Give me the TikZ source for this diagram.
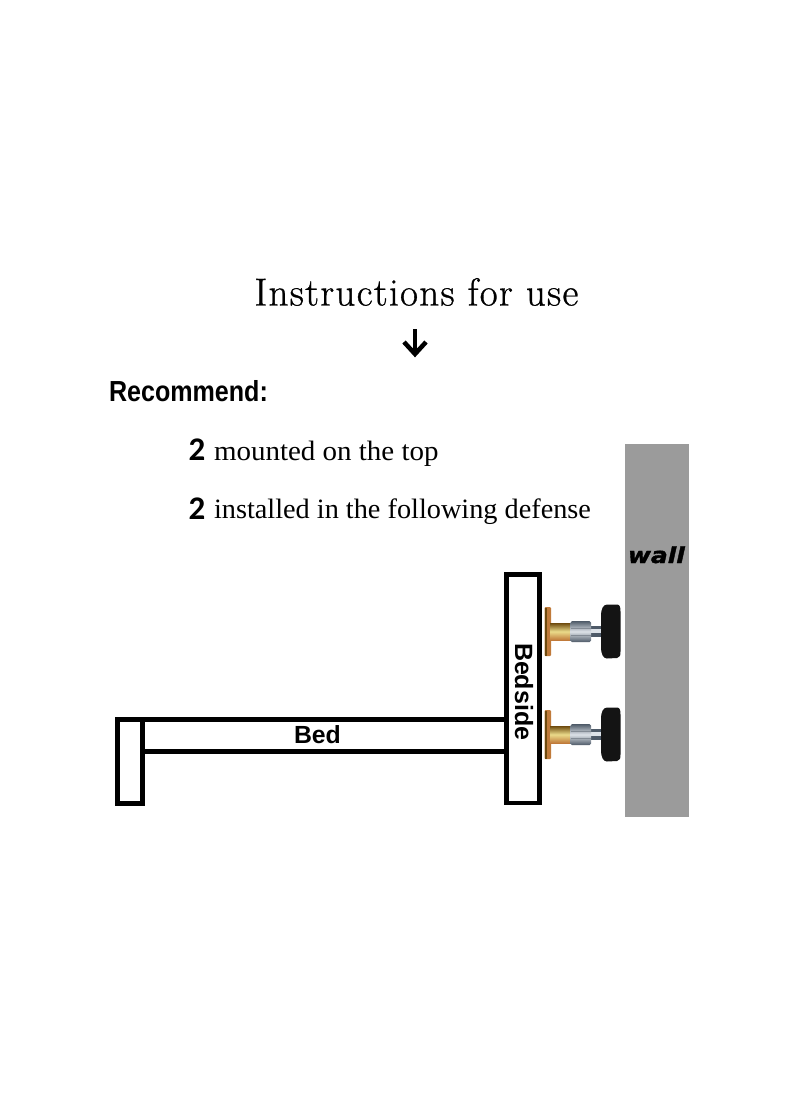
\documentclass[tikz,border=0pt]{standalone}
\usepackage{fontspec}
\setmainfont{Latin Modern Roman}
\newfontfamily\bodyfont{Liberation Serif}
\newfontfamily\numfont{Carlito}
\newfontfamily\armfont{Liberation Sans}
\newfontfamily\wallfont{DejaVu Sans}
\definecolor{wallgrey}{HTML}{9B9B9B}
\definecolor{plateorange}{HTML}{C07A3A}
\definecolor{brassdark}{HTML}{6E4A0E}
\definecolor{brasslight}{HTML}{EADB8A}
\definecolor{steeldark}{HTML}{4E5A68}
\definecolor{steellight}{HTML}{DDE2E8}
\definecolor{knob}{HTML}{141414}
\tikzset{
  frame/.style={draw=black,line width=4.8pt,fill=white,miter limit=10},
  txt/.style={inner sep=0pt,outer sep=0pt,anchor=base west,text=black},
  pics/bolt/.style={code={
    \fill[plateorange,rounded corners=1pt] (-0.5,-24.5) rectangle (6,24.5);
    \fill[brassdark] (-0.5,-24) rectangle (1.8,24);
    \shade[top color=brassdark,bottom color=plateorange,middle color=brasslight] (5,-8.5) rectangle (25.5,8.5);
    \fill[steeldark] (46,-5.5) rectangle (56,5.5);
    \fill[steellight] (46,-2.5) rectangle (56,1.5);
    \shade[top color=steeldark,bottom color=steeldark,middle color=steellight] (25.5,-9) -- (27,-10.5) -- (44.5,-10.5) -- (46,-9) -- (46,9) -- (44.5,10.5) -- (27,10.5) -- (25.5,9) -- cycle;
    \draw[steeldark!70,line width=0.4pt] (25.5,-3.5) -- (46,-3.5) (25.5,4) -- (46,4);
    \fill[knob] (56,-16) .. controls (56,-22) and (58,-27) .. (62,-27) -- (72,-27) .. controls (75,-27) and (75.5,-24) .. (75.5,-20) -- (75.5,20) .. controls (75.5,24) and (75,26) .. (72,26.5) -- (62,27) .. controls (58,27) and (56,22) .. (56,16) -- cycle;
  }}
}
\begin{document}
\begin{tikzpicture}[x=1pt,y=-1pt]
\useasboundingbox (0,0) rectangle (800,1096);
% wall
\fill[wallgrey] (624.7,444) rectangle (689.3,817.3);
% bed rail, legs
\draw[frame] (143,719.8) rectangle (506,751.8);
\draw[frame] (117.3,719.8) rectangle (142.8,803.7);
\draw[frame] (506.6,574.2) rectangle (539.4,803);
% bolts
\pic at (545,631.5) {bolt};
\pic at (545,734.5) {bolt};
% arrow
\coordinate (arrowtop) at (415,329);
\coordinate (arrowtip) at (415,354);
\coordinate (arrowleft) at (404,342);
\coordinate (arrowright) at (426,342);
\draw[line width=4.5pt] (arrowtop) -- (arrowtip);
\draw[line width=4.5pt,miter limit=10] (arrowleft) -- (arrowtip) -- (arrowright);
% texts
\node[txt] (title) at (254.5,305.5) {\fontsize{39}{39}\selectfont\addfontfeature{LetterSpace=3.4,FakeBold=0.8}Instructions for use};
\node[txt] (recommend) at (109,401) {\armfont\bfseries\fontsize{29}{29}\selectfont\scalebox{0.865}[1]{Recommend:}};
\node[txt] (numa) at (188.5,460.5) {\numfont\bfseries\fontsize{33}{33}\selectfont 2};
\node[txt] (linea) at (214,460) {\bodyfont\fontsize{28}{28}\selectfont\scalebox{1.035}[1]{mounted on the top}};
\node[txt] (numb) at (188.5,519) {\numfont\bfseries\fontsize{33}{33}\selectfont 2};
\node[txt] (lineb) at (214,518.5) {\bodyfont\fontsize{28}{28}\selectfont\scalebox{1.01}[1]{installed in the following defense}};
\node[txt] (wall) at (628,563) {\wallfont\bfseries\itshape\fontsize{22}{22}\selectfont\addfontfeature{FakeBold=1.5}\scalebox{1.13}[1]{wall}};
\node[txt] (bed) at (294,743) {\armfont\bfseries\fontsize{24.8}{24.8}\selectfont Bed};
\node[txt,rotate=-90] (bedside) at (515,643) {\armfont\bfseries\fontsize{25}{25}\selectfont Bedside};
\end{tikzpicture}
\end{document}
